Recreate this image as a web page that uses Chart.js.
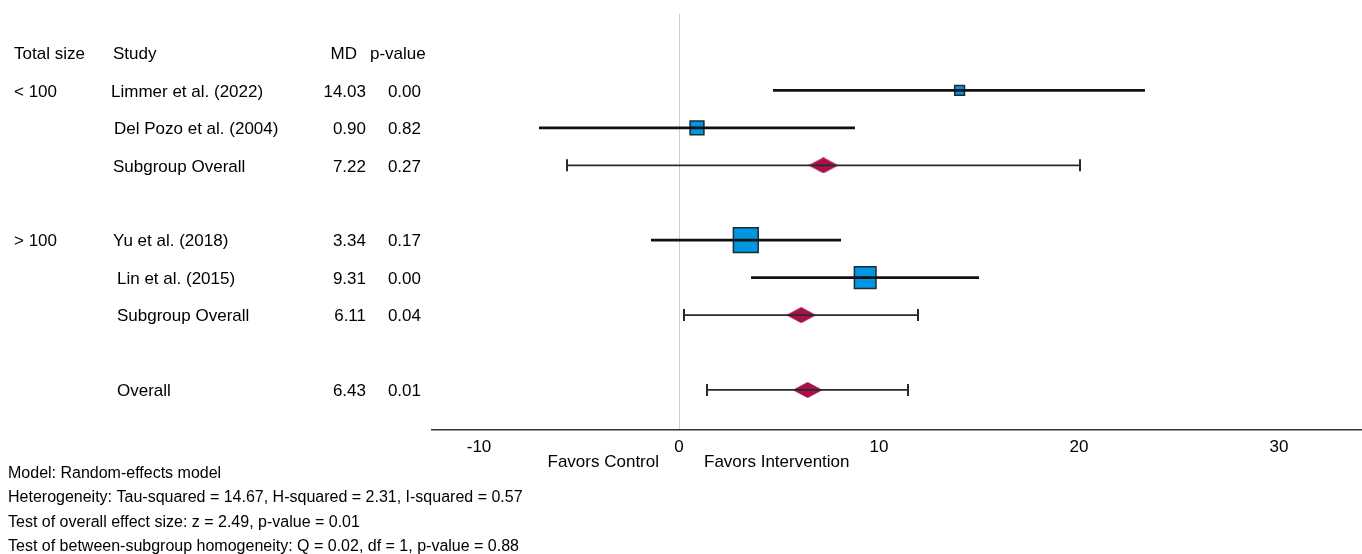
<!DOCTYPE html>
<html>
<head>
<meta charset="utf-8">
<script src="https://cdn.jsdelivr.net/npm/chart.js@4.4.1/dist/chart.umd.min.js"></script>
<style>
  html, body { margin: 0; padding: 0; background: #fff; }
  #wrap { position: relative; width: 1362px; height: 554px; }
</style>
</head>
<body>
<div id="wrap"><canvas id="c" width="1362" height="554"></canvas></div>
<script>
// ---- data ----
const groupLabels = ['< 100', '> 100'];
const groupRows = [1, 5];
const studyNames = ['Limmer et al. (2022)', 'Del Pozo et al. (2004)', 'Subgroup Overall',
                    'Yu et al. (2018)', 'Lin et al. (2015)', 'Subgroup Overall', 'Overall'];
const rowKinds = ['study', 'study', 'pooled', 'study', 'study', 'pooled', 'pooled'];
const rowIndex = [1, 2, 3, 5, 6, 7, 9];
const mdValues = [14.03, 0.90, 7.22, 3.34, 9.31, 6.11, 6.43];
const ciLower = [4.7, -7.0, -5.6, -1.4, 3.6, 0.25, 1.4];
const ciUpper = [23.3, 8.8, 20.05, 8.1, 15.0, 11.95, 11.45];
const pValues = ['0.00', '0.82', '0.27', '0.17', '0.00', '0.04', '0.01'];
const studyWeights = [7, 14, null, 45, 34, null, null];
const xTickValues = [-10, 0, 10, 20, 30];
const headers = ['Total size', 'Study', 'MD', 'p-value'];
const favorLabels = ['Favors Control', 'Favors Intervention'];
const footerLines = [
  'Model: Random-effects model',
  'Heterogeneity: Tau-squared = 14.67, H-squared = 2.31, I-squared = 0.57',
  'Test of overall effect size: z = 2.49, p-value = 0.01',
  'Test of between-subgroup homogeneity: Q = 0.02, df = 1, p-value = 0.88'
];

// ---- layout / style ----
const FONT = '"Liberation Sans", Arial, sans-serif';
const nameX = [111, 114, 113, 113, 117, 117, 117];
const TEXT_DY = 1.5;
const SQUARE_FILL = '#0096e2';
const SQUARE_BORDER = '#1c2b38';
const DIAMOND_FILL = '#a8104a';

function makeDiamond(w, h) {
  const cv = document.createElement('canvas');
  cv.width = w; cv.height = h;
  const g = cv.getContext('2d');
  g.fillStyle = DIAMOND_FILL;
  g.beginPath();
  g.moveTo(0, h / 2); g.lineTo(w / 2, 0); g.lineTo(w, h / 2); g.lineTo(w / 2, h);
  g.closePath(); g.fill();
  return cv;
}
const diamondImg = makeDiamond(30, 16);

const datasets = [];
// squares (studies)
const sqIdx = rowKinds.map((k, i) => k === 'study' ? i : -1).filter(i => i >= 0);
datasets.push({
  type: 'scatter', order: 3,
  data: sqIdx.map(i => ({ x: mdValues[i], y: rowIndex[i] })),
  pointStyle: 'rect',
  pointRadius: sqIdx.map(i => Math.sqrt(studyWeights[i]) * 3.7 / Math.SQRT2),
  pointHoverRadius: sqIdx.map(i => Math.sqrt(studyWeights[i]) * 3.7 / Math.SQRT2),
  backgroundColor: SQUARE_FILL, borderColor: SQUARE_BORDER, borderWidth: 1.5
});
// diamonds (pooled)
const pdIdx = rowKinds.map((k, i) => k === 'pooled' ? i : -1).filter(i => i >= 0);
datasets.push({
  type: 'scatter', order: 3,
  data: pdIdx.map(i => ({ x: mdValues[i], y: rowIndex[i] })),
  pointStyle: diamondImg, pointRadius: 10
});
// CI lines
rowKinds.forEach((k, i) => {
  datasets.push({
    type: 'scatter', order: 1, showLine: true,
    data: [{ x: ciLower[i], y: rowIndex[i] }, { x: ciUpper[i], y: rowIndex[i] }],
    pointRadius: 0, pointHoverRadius: 0,
    borderColor: k === 'study' ? '#111111' : '#2a2a2a',
    borderWidth: k === 'study' ? 2.8 : 1.8
  });
});
// whisker caps for pooled rows
datasets.push({
  type: 'scatter', order: 0,
  data: pdIdx.flatMap(i => [{ x: ciLower[i], y: rowIndex[i] }, { x: ciUpper[i], y: rowIndex[i] }]),
  pointStyle: 'line', rotation: 90, pointRadius: 6, pointHoverRadius: 6,
  borderColor: '#2a2a2a', borderWidth: 2
});

const textPlugin = {
  id: 'forestText',
  afterDraw(chart) {
    const ctx = chart.ctx;
    const ys = chart.scales.y;
    const xs = chart.scales.x;
    ctx.save();
    ctx.fillStyle = '#000';
    ctx.textBaseline = 'middle';
    ctx.font = '17px ' + FONT;
    const hy = ys.getPixelForValue(0) + TEXT_DY;
    ctx.textAlign = 'left';
    ctx.fillText(headers[0], 14, hy);
    ctx.fillText(headers[1], 113, hy);
    ctx.textAlign = 'right';
    ctx.fillText(headers[2], 357, hy);
    ctx.textAlign = 'left';
    ctx.fillText(headers[3], 370, hy);
    groupLabels.forEach((g, i) => {
      ctx.textAlign = 'left';
      ctx.fillText(g, 14, ys.getPixelForValue(groupRows[i]) + TEXT_DY);
    });
    studyNames.forEach((n, i) => {
      const y = ys.getPixelForValue(rowIndex[i]) + TEXT_DY;
      ctx.textAlign = 'left';
      ctx.fillText(n, nameX[i], y);
      ctx.textAlign = 'right';
      ctx.fillText(mdValues[i].toFixed(2), 366, y);
      ctx.fillText(pValues[i], 421, y);
    });
    // favors labels
    const x0 = xs.getPixelForValue(0);
    const fy = 462;
    ctx.textAlign = 'right';
    ctx.fillText(favorLabels[0], x0 - 20, fy);
    ctx.textAlign = 'left';
    ctx.fillText(favorLabels[1], x0 + 25, fy);
    // footer
    ctx.font = '16px ' + FONT;
    ctx.textAlign = 'left';
    footerLines.forEach((l, i) => ctx.fillText(l, 8, 472 + TEXT_DY + i * 24.3));
    ctx.restore();
  }
};

function zeroPad(s) { s.paddingLeft = 0; s.paddingRight = 0; s.paddingTop = 0; s.paddingBottom = 0; }

new Chart(document.getElementById('c'), {
  type: 'scatter',
  data: { datasets },
  options: {
    responsive: false,
    animation: false,
    events: [],
    layout: { autoPadding: false, padding: { left: 432, top: 14, right: 0, bottom: 84 } },
    plugins: { legend: { display: false }, tooltip: { enabled: false } },
    scales: {
      x: {
        type: 'linear', min: -12.35, max: 34.15,
        afterBuildTicks: (s) => { s.ticks = xTickValues.map(v => ({ value: v })); },
        afterFit: (s) => { s.height = 40; zeroPad(s); },
        grid: {
          drawTicks: false,
          color: (c) => (c.tick && c.tick.value === 0) ? '#cfcfcf' : 'rgba(0,0,0,0)',
          lineWidth: 1
        },
        border: { display: true, color: '#333333', width: 1.5 },
        ticks: { color: '#000', padding: 7, font: { family: FONT, size: 17 }, maxRotation: 0 }
      },
      y: {
        type: 'linear', display: false, reverse: true, min: -1.042, max: 10.07,
        ticks: { display: false },
        afterFit: (s) => { s.width = 0; zeroPad(s); }
      }
    }
  },
  plugins: [textPlugin]
});
</script>
</body>
</html>
